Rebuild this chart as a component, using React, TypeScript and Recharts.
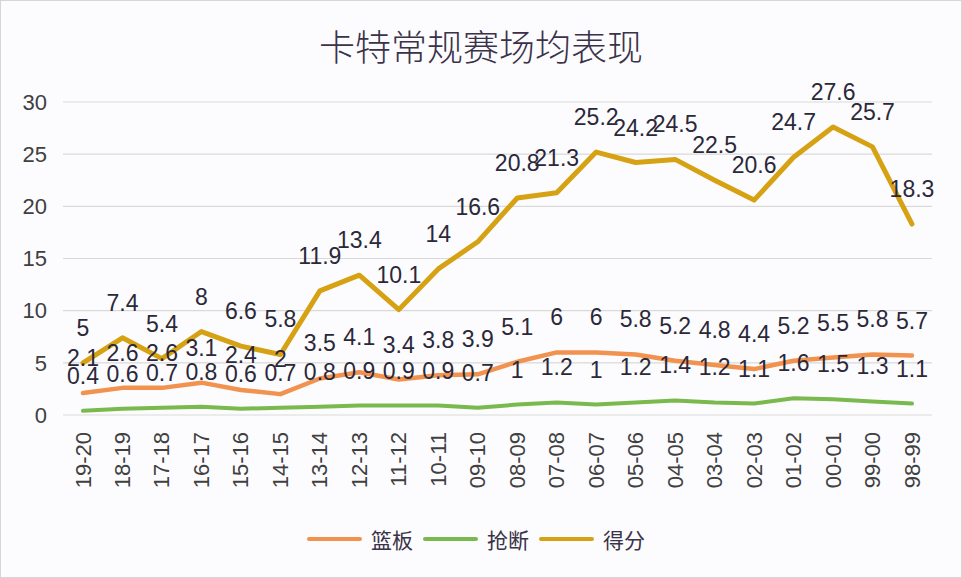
import React from "react";
import {
  LineChart,
  Line,
  XAxis,
  YAxis,
  CartesianGrid,
  Legend,
  LabelList,
} from "recharts";

const seasons = [
  "19-20", "18-19", "17-18", "16-17", "15-16", "14-15", "13-14", "12-13",
  "11-12", "10-11", "09-10", "08-09", "07-08", "06-07", "05-06", "04-05",
  "03-04", "02-03", "01-02", "00-01", "99-00", "98-99",
];
const rebounds = [
  2.1, 2.6, 2.6, 3.1, 2.4, 2, 3.5, 4.1, 3.4, 3.8, 3.9, 5.1, 6, 6, 5.8, 5.2,
  4.8, 4.4, 5.2, 5.5, 5.8, 5.7,
];
const steals = [
  0.4, 0.6, 0.7, 0.8, 0.6, 0.7, 0.8, 0.9, 0.9, 0.9, 0.7, 1, 1.2, 1, 1.2, 1.4,
  1.2, 1.1, 1.6, 1.5, 1.3, 1.1,
];
const points = [
  5, 7.4, 5.4, 8, 6.6, 5.8, 11.9, 13.4, 10.1, 14, 16.6, 20.8, 21.3, 25.2,
  24.2, 24.5, 22.5, 20.6, 24.7, 27.6, 25.7, 18.3,
];
const yTicks = [0, 5, 10, 15, 20, 25, 30];

const SERIES = [
  { key: "篮板", color: "#F1924F", width: 4.5 },
  { key: "抢断", color: "#79B94E", width: 4 },
  { key: "得分", color: "#D6A214", width: 5 },
];

const data = seasons.map((s, i) => ({
  season: s,
  篮板: rebounds[i],
  抢断: steals[i],
  得分: points[i],
}));

const FONT = "'Liberation Sans', Arial, sans-serif";
const CJK = "'Noto Sans CJK SC', sans-serif";

const XTick = (props: any) => {
  const { x, y, payload } = props;
  return (
    <text
      x={x}
      y={y}
      transform={`rotate(-90 ${x} ${y})`}
      textAnchor="end"
      dominantBaseline="central"
      fontSize={22}
      fontFamily={FONT}
      fill="#404040"
    >
      {payload.value}
    </text>
  );
};

const LegendContent = () => (
  <div
    style={{
      display: "flex",
      justifyContent: "center",
      alignItems: "center",
      height: 28,
      fontFamily: CJK,
      fontSize: 21,
      color: "#3a3246",
    }}
  >
    {SERIES.map((s) => (
      <div key={s.key} style={{ display: "flex", alignItems: "center", marginRight: 10 }}>
        <span
          style={{
            display: "inline-block",
            width: 55,
            height: 4,
            borderRadius: 2,
            background: s.color,
            marginRight: 9,
          }}
        />
        {s.key}
      </div>
    ))}
  </div>
);

export default function App() {
  return (
    <div
      style={{
        position: "fixed",
        left: 0,
        top: 0,
        width: 960,
        height: 576,
        background: "#fcfcfe",
        border: "1px solid #d6d6da",
      }}
    >
      <div
        style={{
          position: "absolute",
          top: 18,
          left: 0,
          width: 960,
          textAlign: "center",
          fontFamily: CJK,
          fontSize: 36,
          fontWeight: 300,
          lineHeight: "52px",
          color: "#3b3249",
        }}
      >
        卡特常规赛场均表现
      </div>
      <LineChart
        width={960}
        height={576}
        data={data}
        margin={{ top: 101, right: 29, bottom: 54, left: 17 }}
      >
        <CartesianGrid vertical={false} stroke="#d9d9d9" strokeWidth={1.2} />
        <XAxis
          dataKey="season"
          interval={0}
          axisLine={false}
          tickLine={false}
          tickSize={0}
          tickMargin={17}
          height={80}
          padding={{ left: 20, right: 20 }}
          tick={<XTick />}
        />
        <YAxis
          domain={[0, 30]}
          ticks={yTicks}
          axisLine={false}
          tickLine={false}
          tickSize={0}
          tickMargin={16}
          width={45}
          tick={{ fontSize: 22, fill: "#404040", fontFamily: FONT }}
        />
        <Legend
          content={<LegendContent />}
          wrapperStyle={{ position: "absolute", top: 524, left: 0, width: 960 }}
        />
        {SERIES.map((s) => (
          <Line
            key={s.key}
            type="linear"
            dataKey={s.key}
            stroke={s.color}
            strokeWidth={s.width}
            strokeLinejoin="round"
            strokeLinecap="round"
            dot={false}
            activeDot={false}
            isAnimationActive={false}
          >
            <LabelList
              dataKey={s.key}
              position="top"
              offset={27}
              fontSize={23}
              fontFamily={FONT}
              fill="#2b2839"
            />
          </Line>
        ))}
      </LineChart>
    </div>
  );
}
